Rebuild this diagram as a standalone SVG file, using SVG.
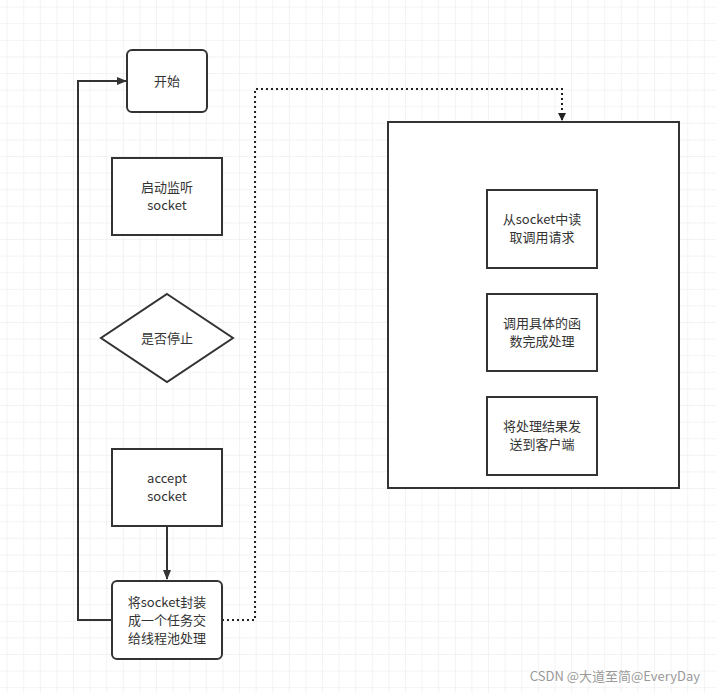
<svg xmlns="http://www.w3.org/2000/svg" width="716" height="693" viewBox="0 0 716 693">
<style>
.n{fill:#fff;stroke:#333;stroke-width:2}
.t{font-family:"Noto Sans CJK SC","Liberation Sans",sans-serif;font-size:13px;fill:#333;text-anchor:middle}
.c{fill:none;stroke:#333;stroke-width:2}
.d{fill:none;stroke:#222;stroke-width:2;stroke-dasharray:2 3}
</style>
<defs>
<pattern id="g" x="7.6" y="7.6" width="16.6" height="16.6" patternUnits="userSpaceOnUse">
<path d="M16.6 0V16.6M0 16.6H16.6" fill="none" stroke="#e8e8e8" stroke-width="1"/>
</pattern>
<marker id="a" markerWidth="10" markerHeight="8" refX="9" refY="4" orient="auto" markerUnits="userSpaceOnUse"><path d="M0 0L10 4L0 8Z" fill="#333"/></marker>
<marker id="b" markerWidth="8" markerHeight="8" refX="7" refY="4" orient="auto" markerUnits="userSpaceOnUse"><path d="M0 0L8 4L0 8Z" fill="#222"/></marker>
</defs>
<rect width="716" height="693" fill="#fff"/>
<rect width="716" height="693" fill="url(#g)"/>
<g id="connectors">
<path class="c" d="M167 526V579" marker-end="url(#a)"/>
<path class="c" d="M112 620H78V81H126" marker-end="url(#a)"/>
<path class="d" d="M222 620H255V89H562V120" marker-end="url(#b)"/>
</g>
<g id="start"><rect class="n" x="127" y="50" width="80" height="62" rx="5"/><text class="t" x="167" y="86">开始</text></g>
<g id="listen"><rect class="n" x="112" y="158" width="110" height="77"/><text class="t" x="167" y="192">启动监听</text><text class="t" x="167" y="210">socket</text></g>
<g id="stop"><path class="n" d="M167 294L233 338L167 382L101 338Z"/><text class="t" x="167" y="343">是否停止</text></g>
<g id="accept"><rect class="n" x="112" y="449" width="110" height="77"/><text class="t" x="167" y="483">accept</text><text class="t" x="167" y="501">socket</text></g>
<g id="wrap"><rect class="n" x="112" y="581" width="110" height="78" rx="5"/><text class="t" x="167" y="607">将socket封装</text><text class="t" x="167" y="625">成一个任务交</text><text class="t" x="167" y="643">给线程池处理</text></g>
<g id="worker"><rect class="n" x="388" y="122" width="291" height="366"/></g>
<g id="read"><rect class="n" x="487" y="190" width="110" height="78"/><text class="t" x="542" y="224">从socket中读</text><text class="t" x="542" y="242">取调用请求</text></g>
<g id="call"><rect class="n" x="487" y="294" width="110" height="77"/><text class="t" x="542" y="328">调用具体的函</text><text class="t" x="542" y="346">数完成处理</text></g>
<g id="send"><rect class="n" x="487" y="397" width="110" height="78"/><text class="t" x="542" y="431">将处理结果发</text><text class="t" x="542" y="449">送到客户端</text></g>
<text x="700" y="681" style="font-family:'Noto Sans CJK SC','Liberation Sans',sans-serif;font-size:13px;fill:#999;text-anchor:end">CSDN @大道至简@EveryDay</text>
</svg>
